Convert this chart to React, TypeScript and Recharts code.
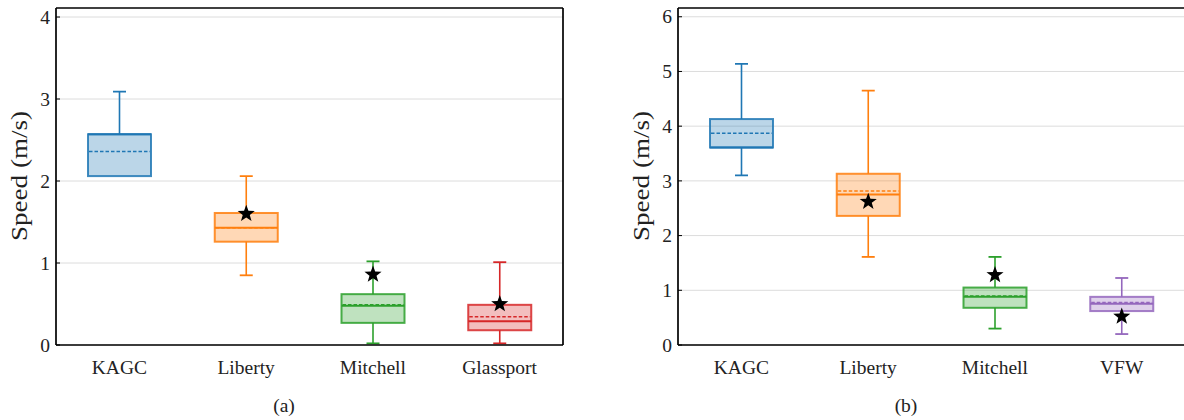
import React from 'react';
import { ComposedChart, Bar, XAxis, YAxis, CartesianGrid } from 'recharts';

// ---------- Data: panel (a) ----------
const leftCategories = ['KAGC', 'Liberty', 'Mitchell', 'Glassport'];
const leftMin = [2.06, 0.85, 0.02, 0.02];
const leftQ1 = [2.06, 1.26, 0.27, 0.18];
const leftMedian = [2.57, 1.43, 0.48, 0.29];
const leftQ3 = [2.57, 1.61, 0.62, 0.49];
const leftMax = [3.09, 2.06, 1.02, 1.01];
const leftMean = [2.36, 1.43, 0.49, 0.345];
const leftStar: (number | null)[] = [null, 1.6, 0.86, 0.5];
const leftTicks = [0, 1, 2, 3, 4];
const leftDomainMax = 4.11;

// ---------- Data: panel (b) ----------
const rightCategories = ['KAGC', 'Liberty', 'Mitchell', 'VFW'];
const rightMin = [3.1, 1.61, 0.3, 0.2];
const rightQ1 = [3.61, 2.36, 0.68, 0.62];
const rightMedian = [3.61, 2.75, 0.88, 0.755];
const rightQ3 = [4.13, 3.13, 1.05, 0.88];
const rightMax = [5.14, 4.65, 1.61, 1.225];
const rightMean = [3.87, 2.815, 0.895, 0.78];
const rightStar: (number | null)[] = [null, 2.62, 1.28, 0.52];
const rightTicks = [0, 1, 2, 3, 4, 5, 6];
const rightDomainMax = 6.16;

const leftColors = ['#1f77b4', '#ff7f0e', '#2ca02c', '#d62728'];
const rightColors = ['#1f77b4', '#ff7f0e', '#2ca02c', '#9467bd'];

const FONT = '"Liberation Serif", "Times New Roman", serif';

function buildRows(
  cats: string[], mins: number[], q1: number[], med: number[], q3: number[],
  maxs: number[], mean: number[], star: (number | null)[], colors: string[]
) {
  return cats.map((c, i) => ({
    name: c,
    range: [mins[i], maxs[i]],
    min: mins[i], q1: q1[i], median: med[i], q3: q3[i], max: maxs[i],
    mean: mean[i], star: star[i], color: colors[i],
  }));
}

const leftRows = buildRows(leftCategories, leftMin, leftQ1, leftMedian, leftQ3, leftMax, leftMean, leftStar, leftColors);
const rightRows = buildRows(rightCategories, rightMin, rightQ1, rightMedian, rightQ3, rightMax, rightMean, rightStar, rightColors);

function starPoints(cx: number, cy: number, R: number, r: number) {
  const pts: string[] = [];
  for (let k = 0; k < 10; k++) {
    const ang = -Math.PI / 2 + (k * Math.PI) / 5;
    const rad = k % 2 === 0 ? R : r;
    pts.push(`${cx + rad * Math.cos(ang)},${cy + rad * Math.sin(ang)}`);
  }
  return pts.join(' ');
}

const BoxShape = (props: any) => {
  const { x, y, width, height, payload } = props;
  if (!payload) return null;
  const top = Math.min(y, y + height);
  const h = Math.abs(height);
  const lo = payload.min;
  const hi = payload.max;
  const py = (v: number) => top + (h * (hi - v)) / (hi - lo);
  const cx = x + width / 2;
  const col = payload.color;
  const cap = 6.5;
  const yQ3 = py(payload.q3);
  const yQ1 = py(payload.q1);
  return (
    <g>
      <line x1={cx} x2={cx} y1={py(hi)} y2={yQ3} stroke={col} strokeWidth={1.6} />
      <line x1={cx} x2={cx} y1={yQ1} y2={py(lo)} stroke={col} strokeWidth={1.6} />
      {payload.max > payload.q3 && (
        <line x1={cx - cap} x2={cx + cap} y1={py(hi)} y2={py(hi)} stroke={col} strokeWidth={1.8} />
      )}
      {payload.min < payload.q1 && (
        <line x1={cx - cap} x2={cx + cap} y1={py(lo)} y2={py(lo)} stroke={col} strokeWidth={1.8} />
      )}
      <rect x={x} y={yQ3} width={width} height={yQ1 - yQ3} fill={col} fillOpacity={0.3} stroke={col} strokeOpacity={0.85} strokeWidth={2} />
      <line x1={x} x2={x + width} y1={py(payload.median)} y2={py(payload.median)} stroke={col} strokeWidth={2} />
      <line x1={x + 1} x2={x + width - 1} y1={py(payload.mean)} y2={py(payload.mean)} stroke={col} strokeWidth={1.4} strokeDasharray="3.5 2" />
      {payload.star != null && (
        <polygon points={starPoints(cx, py(payload.star), 9, 3.7)} fill="#000" />
      )}
    </g>
  );
};

const YTick = (props: any) => {
  const { x, y, payload } = props;
  return (
    <g>
      <line x1={x} x2={x + 4} y1={y} y2={y} stroke="#000" strokeWidth={1} />
      <text x={x - 6} y={y} dy="0.34em" textAnchor="end" fontFamily={FONT} fontSize={19.5} fill="#222">
        {payload.value}
      </text>
    </g>
  );
};

const XTick = (props: any) => {
  const { x, y, payload } = props;
  return (
    <text x={x} y={y + 29} textAnchor="middle" fontFamily={FONT} fontSize={19.5} fill="#222">
      {payload.value}
    </text>
  );
};

const axisLineStyle = { stroke: '#000', strokeWidth: 1.7 };

const Y_W = 40;
const X_H = 30;
const TOP_H = 4;
const RIGHT_W = 4;

function Panel(props: { rows: any[]; ticks: number[]; domainMax: number; width: number; plotLeft: number; plotRight: number; rightBorder: boolean }) {
  const { rows, ticks, domainMax, width, plotLeft, plotRight, rightBorder } = props;
  const margin = {
    top: 8 - TOP_H,
    bottom: 75 - X_H,
    left: plotLeft - Y_W,
    right: width - plotRight - (rightBorder ? RIGHT_W : 0),
  };
  return (
    <ComposedChart width={width} height={420} data={rows} margin={margin}>
      <CartesianGrid vertical={false} horizontalValues={ticks} stroke="#dcdcdc" strokeWidth={1} />
      <XAxis dataKey="name" height={X_H} axisLine={axisLineStyle} tickLine={false} tickSize={0} tickMargin={0} tick={<XTick />} interval={0} />
      <XAxis xAxisId="top" dataKey="name" orientation="top" height={TOP_H} axisLine={axisLineStyle} tickLine={false} tick={false} />
      <YAxis
        width={Y_W}
        domain={[0, domainMax]}
        ticks={ticks}
        allowDataOverflow
        axisLine={axisLineStyle}
        tickLine={false}
        tickSize={0}
        tickMargin={0}
        tick={<YTick />}
        interval={0}
      />
      {rightBorder && (
        <YAxis yAxisId="r" orientation="right" width={RIGHT_W} domain={[0, domainMax]} axisLine={axisLineStyle} tickLine={false} tick={false} />
      )}
      <Bar dataKey="range" barSize={63} shape={<BoxShape />} isAnimationActive={false} />
    </ComposedChart>
  );
}

export default function App() {
  return (
    <div style={{ position: 'absolute', left: 0, top: 0, width: 1184, height: 420, overflow: 'hidden', background: '#fff' }}>
      <div style={{ position: 'absolute', left: 0, top: 0 }}>
        <Panel rows={leftRows} ticks={leftTicks} domainMax={leftDomainMax} width={600}
          plotLeft={56} plotRight={563} rightBorder={true} />
      </div>
      <div style={{ position: 'absolute', left: 620, top: 0 }}>
        <Panel rows={rightRows} ticks={rightTicks} domainMax={rightDomainMax} width={566}
          plotLeft={58} plotRight={565} rightBorder={false} />
      </div>
      <svg width={1184} height={420} style={{ position: 'absolute', left: 0, top: 0, pointerEvents: 'none' }}>
        <text transform="translate(27,176) rotate(-90)" textAnchor="middle" textLength={130} lengthAdjust="spacingAndGlyphs" fontFamily={FONT} fontSize={23} fill="#222">Speed (m/s)</text>
        <text transform="translate(649,176) rotate(-90)" textAnchor="middle" textLength={130} lengthAdjust="spacingAndGlyphs" fontFamily={FONT} fontSize={23} fill="#222">Speed (m/s)</text>
        <text x={284} y={412} textAnchor="middle" fontFamily={FONT} fontSize={19.5} fill="#222">(a)</text>
        <text x={906} y={412} textAnchor="middle" fontFamily={FONT} fontSize={19.5} fill="#222">(b)</text>
      </svg>
    </div>
  );
}
